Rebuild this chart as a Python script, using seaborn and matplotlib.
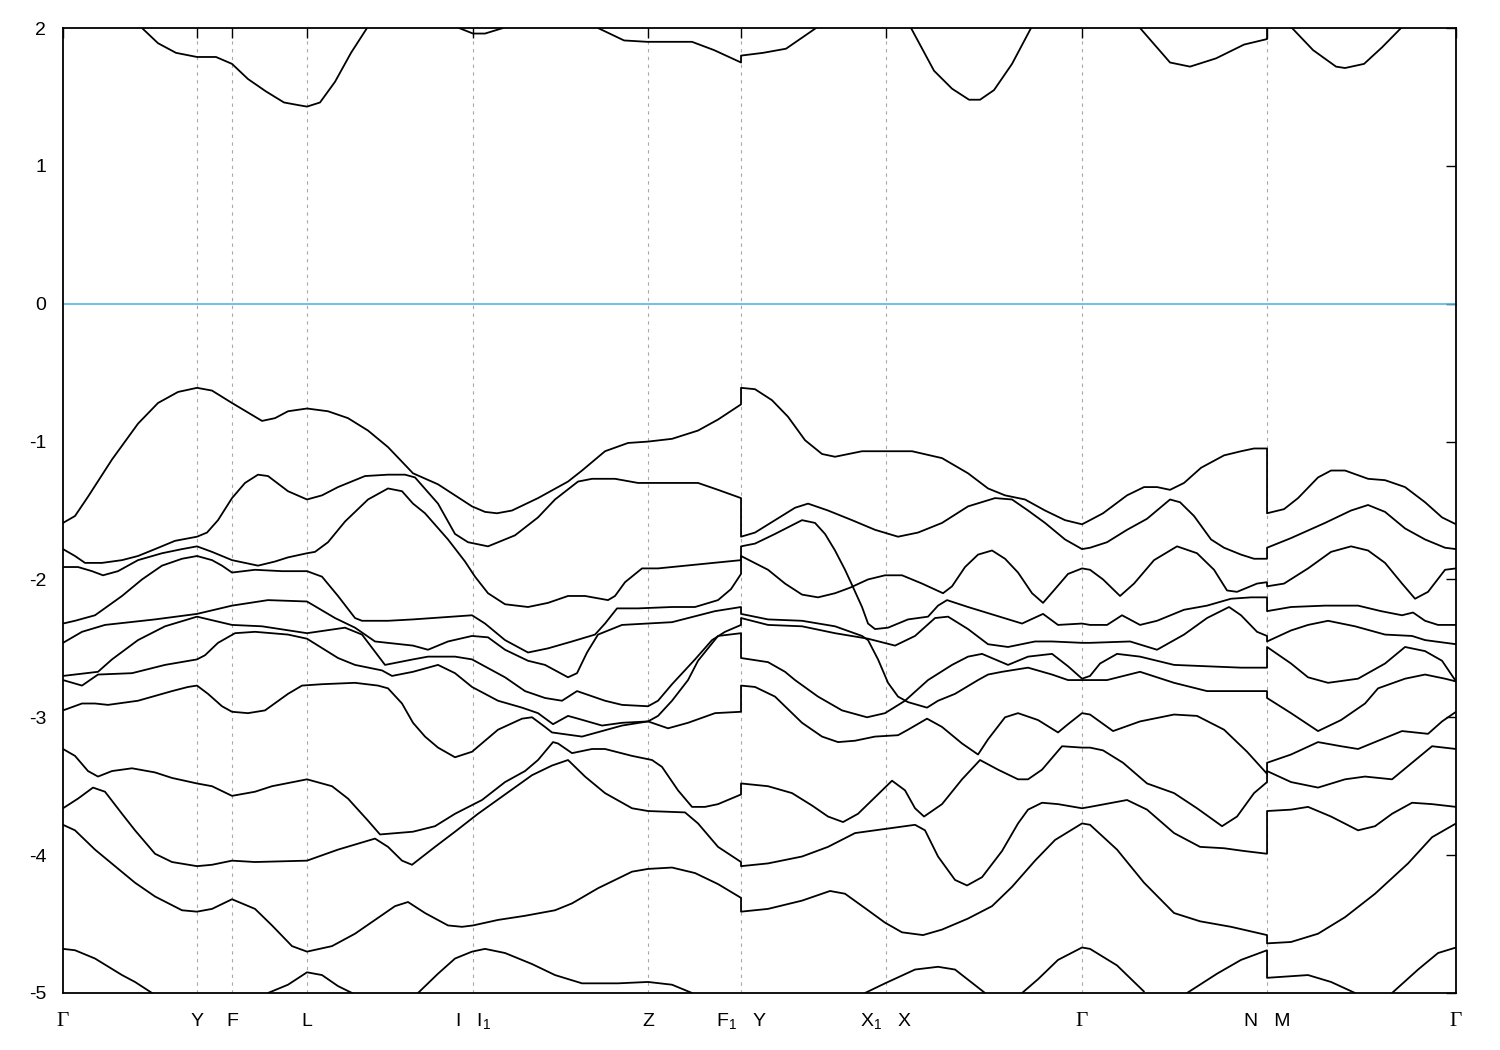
import matplotlib
matplotlib.use("Agg")
import matplotlib.pyplot as plt
import pandas as pd
import seaborn as sns

# ---------------- high-symmetry path ----------------
sym_k = [0.0, 1.34, 1.69, 2.44, 4.10, 5.85, 6.78, 8.23, 10.19, 12.04, 13.93]
sym_labels = ["Γ", "Y", "F", "L", "I   I$_1$", "Z", "F$_1$   Y", "X$_1$   X", "Γ", "N   M", "Γ"]
y_ticks = [-5, -4, -3, -2, -1, 0, 1, 2]

# ---------------- segment Γ-Y-F-L-I|I1-Z-F1 ----------------
A1_k = [0, 0.12, 0.25, 0.49, 0.75, 0.95, 1.15, 1.34, 1.49, 1.69, 1.99, 2.12, 2.25, 2.44, 2.65, 2.85, 3.05, 3.25, 3.50, 3.75, 4.09, 4.22, 4.34, 4.49, 4.75, 5.05, 5.19, 5.42, 5.65, 5.85, 6.09, 6.35, 6.55, 6.78]
A1_e = [-1.59, -1.54, -1.40, -1.13, -0.87, -0.72, -0.64, -0.61, -0.63, -0.72, -0.85, -0.83, -0.78, -0.76, -0.78, -0.83, -0.92, -1.04, -1.23, -1.31, -1.47, -1.51, -1.52, -1.50, -1.41, -1.29, -1.21, -1.07, -1.01, -1.00, -0.98, -0.92, -0.84, -0.73]
A2_k = [0, 0.12, 0.22, 0.39, 0.59, 0.75, 0.92, 1.12, 1.34, 1.44, 1.55, 1.69, 1.82, 1.95, 2.05, 2.25, 2.44, 2.59, 2.75, 3.02, 3.25, 3.42, 3.52, 3.75, 3.92, 4.05, 4.25, 4.52, 4.75, 4.92, 5.15, 5.29, 5.52, 5.75, 6.35, 6.55, 6.78]
A2_e = [-1.78, -1.83, -1.88, -1.88, -1.86, -1.83, -1.78, -1.72, -1.69, -1.66, -1.57, -1.41, -1.30, -1.24, -1.25, -1.36, -1.42, -1.39, -1.33, -1.25, -1.24, -1.24, -1.26, -1.45, -1.67, -1.73, -1.76, -1.68, -1.55, -1.42, -1.29, -1.27, -1.27, -1.30, -1.30, -1.35, -1.41]
A3_k = [0, 0.15, 0.29, 0.40, 0.55, 0.75, 0.99, 1.19, 1.34, 1.49, 1.69, 1.95, 2.12, 2.25, 2.44, 2.52, 2.65, 2.82, 3.05, 3.25, 3.39, 3.50, 3.62, 3.85, 4.02, 4.12, 4.25, 4.42, 4.65, 4.85, 5.05, 5.22, 5.45, 5.52, 5.62, 5.79, 5.95, 6.78]
A3_e = [-1.91, -1.91, -1.94, -1.97, -1.94, -1.86, -1.81, -1.78, -1.76, -1.80, -1.86, -1.90, -1.87, -1.84, -1.81, -1.80, -1.73, -1.58, -1.42, -1.34, -1.36, -1.45, -1.52, -1.71, -1.87, -1.98, -2.10, -2.18, -2.20, -2.17, -2.12, -2.12, -2.15, -2.12, -2.02, -1.92, -1.92, -1.86]
A4_k = [0, 0.12, 0.32, 0.59, 0.79, 0.99, 1.19, 1.34, 1.49, 1.59, 1.69, 1.92, 2.19, 2.44, 2.59, 2.75, 2.92, 2.99, 3.25, 3.50, 4.09, 4.22, 4.42, 4.65, 4.85, 5.09, 5.32, 5.42, 5.54, 5.75, 6.09, 6.32, 6.55, 6.68, 6.78]
A4_e = [-2.32, -2.30, -2.26, -2.12, -2.00, -1.90, -1.85, -1.83, -1.86, -1.90, -1.95, -1.93, -1.94, -1.94, -1.98, -2.12, -2.28, -2.30, -2.30, -2.29, -2.26, -2.32, -2.44, -2.53, -2.50, -2.45, -2.40, -2.32, -2.21, -2.21, -2.20, -2.20, -2.15, -2.07, -1.96]
A5_k = [0, 0.19, 0.42, 0.92, 1.34, 1.69, 2.05, 2.44, 2.72, 2.92, 3.12, 3.50, 3.65, 3.85, 4.09, 4.25, 4.42, 4.65, 4.82, 5.05, 5.14, 5.24, 5.35, 5.59, 6.09, 6.52, 6.78]
A5_e = [-2.46, -2.38, -2.33, -2.29, -2.25, -2.19, -2.15, -2.16, -2.28, -2.35, -2.45, -2.48, -2.51, -2.45, -2.41, -2.42, -2.51, -2.59, -2.62, -2.71, -2.68, -2.53, -2.40, -2.33, -2.31, -2.23, -2.20]
A6_k = [0, 0.35, 0.49, 0.75, 1.02, 1.34, 1.69, 1.99, 2.44, 2.82, 2.99, 3.22, 3.50, 3.65, 3.92, 4.09, 4.42, 4.62, 4.82, 4.99, 5.14, 5.42, 5.59, 5.85, 5.95, 6.09, 6.32, 6.49, 6.62, 6.78]
A6_e = [-2.70, -2.67, -2.58, -2.44, -2.34, -2.27, -2.33, -2.34, -2.39, -2.35, -2.40, -2.62, -2.58, -2.56, -2.56, -2.58, -2.71, -2.81, -2.86, -2.88, -2.81, -2.88, -2.91, -2.92, -2.88, -2.76, -2.58, -2.44, -2.38, -2.33]
A7_k = [0, 0.19, 0.35, 0.69, 1.02, 1.34, 1.42, 1.55, 1.72, 1.92, 2.25, 2.44, 2.75, 2.92, 3.19, 3.29, 3.50, 3.75, 3.92, 4.09, 4.35, 4.59, 4.75, 4.90, 5.05, 5.15, 5.39, 5.59, 5.85, 6.05, 6.25, 6.52, 6.78]
A7_e = [-2.73, -2.77, -2.69, -2.68, -2.62, -2.58, -2.55, -2.46, -2.39, -2.38, -2.40, -2.43, -2.57, -2.62, -2.66, -2.70, -2.67, -2.62, -2.68, -2.78, -2.88, -2.93, -2.97, -3.05, -2.99, -3.01, -3.06, -3.04, -3.03, -3.08, -3.04, -2.97, -2.96]
A8_k = [0, 0.19, 0.32, 0.45, 0.75, 1.09, 1.25, 1.34, 1.45, 1.59, 1.69, 1.85, 2.02, 2.25, 2.39, 2.59, 2.92, 3.15, 3.25, 3.39, 3.50, 3.62, 3.75, 3.92, 4.09, 4.35, 4.59, 4.69, 4.82, 4.89, 4.99, 5.19, 5.39, 5.59, 5.85, 5.95, 6.09, 6.25, 6.35, 6.55, 6.78]
A8_e = [-2.95, -2.90, -2.90, -2.91, -2.88, -2.81, -2.78, -2.77, -2.83, -2.92, -2.96, -2.97, -2.95, -2.83, -2.77, -2.76, -2.75, -2.77, -2.79, -2.90, -3.04, -3.14, -3.22, -3.29, -3.25, -3.09, -3.01, -3.00, -3.07, -3.11, -3.12, -3.14, -3.10, -3.06, -3.03, -2.99, -2.88, -2.73, -2.59, -2.41, -2.39]
A9_k = [0, 0.12, 0.25, 0.35, 0.49, 0.69, 0.92, 1.09, 1.34, 1.49, 1.69, 1.92, 2.09, 2.44, 2.69, 2.85, 3.05, 3.17, 3.50, 3.72, 3.92, 4.19, 4.42, 4.62, 4.75, 4.90, 4.95, 5.09, 5.29, 5.42, 5.69, 5.89, 5.99, 6.15, 6.29, 6.42, 6.55, 6.78]
A9_e = [-3.23, -3.28, -3.39, -3.43, -3.39, -3.37, -3.40, -3.44, -3.48, -3.50, -3.57, -3.54, -3.50, -3.45, -3.50, -3.59, -3.75, -3.85, -3.83, -3.79, -3.70, -3.60, -3.47, -3.39, -3.31, -3.18, -3.19, -3.26, -3.23, -3.23, -3.28, -3.31, -3.36, -3.53, -3.65, -3.65, -3.63, -3.56]
A10_k = [0, 0.15, 0.30, 0.42, 0.59, 0.72, 0.92, 1.09, 1.34, 1.49, 1.69, 1.92, 2.44, 2.75, 3.12, 3.25, 3.39, 3.49, 3.72, 3.92, 4.15, 4.42, 4.69, 4.89, 5.05, 5.22, 5.42, 5.69, 5.85, 6.22, 6.35, 6.55, 6.78]
A10_e = [-3.66, -3.59, -3.51, -3.54, -3.70, -3.82, -3.99, -4.05, -4.08, -4.07, -4.04, -4.05, -4.04, -3.96, -3.88, -3.94, -4.04, -4.07, -3.94, -3.83, -3.70, -3.56, -3.42, -3.35, -3.31, -3.43, -3.55, -3.66, -3.68, -3.69, -3.77, -3.94, -4.05]
A11_k = [0, 0.12, 0.32, 0.52, 0.72, 0.92, 1.19, 1.34, 1.49, 1.69, 1.92, 2.09, 2.29, 2.44, 2.69, 2.92, 3.12, 3.32, 3.45, 3.62, 3.85, 3.99, 4.10, 4.35, 4.62, 4.92, 5.09, 5.35, 5.69, 5.85, 6.09, 6.32, 6.55, 6.78]
A11_e = [-3.78, -3.82, -3.96, -4.08, -4.20, -4.30, -4.40, -4.41, -4.39, -4.32, -4.39, -4.51, -4.66, -4.70, -4.66, -4.57, -4.47, -4.37, -4.34, -4.42, -4.51, -4.52, -4.51, -4.47, -4.44, -4.40, -4.35, -4.24, -4.12, -4.10, -4.09, -4.13, -4.21, -4.31]
A12_k = [0, 0.12, 0.32, 0.59, 0.72, 0.89]
A12_e = [-4.68, -4.69, -4.75, -4.87, -4.92, -5.00]
A13_k = [2.05, 2.25, 2.44, 2.59, 2.75, 2.89]
A13_e = [-5.00, -4.94, -4.85, -4.87, -4.95, -5.00]
A14_k = [3.55, 3.75, 3.92, 4.09, 4.22, 4.42, 4.69, 4.92, 5.19, 5.55, 5.85, 6.09, 6.29]
A14_e = [-5.00, -4.86, -4.75, -4.70, -4.68, -4.71, -4.79, -4.87, -4.93, -4.93, -4.92, -4.94, -5.00]

# ---------------- segment Y-X1|X-Γ-N ----------------
B1_k = [6.78, 6.92, 7.09, 7.25, 7.42, 7.59, 7.72, 7.99, 8.24, 8.49, 8.79, 9.05, 9.25, 9.42, 9.62, 9.82, 10.02, 10.19, 10.27, 10.40, 10.64, 10.81, 10.94, 11.07, 11.21, 11.38, 11.61, 11.78, 11.91, 12.04]
B1_e = [-0.61, -0.62, -0.70, -0.82, -0.99, -1.09, -1.11, -1.07, -1.07, -1.07, -1.12, -1.23, -1.34, -1.39, -1.42, -1.50, -1.57, -1.60, -1.57, -1.52, -1.39, -1.33, -1.33, -1.35, -1.30, -1.19, -1.10, -1.07, -1.05, -1.05]
B2_k = [6.78, 6.92, 7.12, 7.32, 7.45, 7.65, 7.89, 8.12, 8.35, 8.55, 8.79, 9.05, 9.32, 9.49, 9.65, 9.82, 10.02, 10.19, 10.27, 10.44, 10.64, 10.84, 11.07, 11.17, 11.31, 11.48, 11.61, 11.78, 11.91, 12.04]
B2_e = [-1.69, -1.66, -1.57, -1.48, -1.45, -1.50, -1.57, -1.64, -1.69, -1.66, -1.59, -1.47, -1.41, -1.42, -1.50, -1.59, -1.71, -1.78, -1.77, -1.73, -1.64, -1.56, -1.42, -1.44, -1.54, -1.71, -1.77, -1.82, -1.85, -1.85]
B3_k = [6.78, 6.92, 7.12, 7.39, 7.52, 7.62, 7.72, 7.82, 7.89, 7.99, 8.05, 8.12, 8.25, 8.45, 8.65, 8.75, 8.84, 9.05, 9.32, 9.59, 9.80, 9.95, 10.19, 10.27, 10.44, 10.59, 10.77, 10.94, 11.21, 11.44, 11.68, 11.88, 12.04]
B3_e = [-1.76, -1.74, -1.67, -1.57, -1.59, -1.67, -1.79, -1.93, -2.04, -2.20, -2.32, -2.36, -2.35, -2.29, -2.27, -2.19, -2.15, -2.20, -2.26, -2.32, -2.25, -2.33, -2.32, -2.33, -2.33, -2.26, -2.33, -2.30, -2.22, -2.19, -2.14, -2.13, -2.13]
B4_k = [6.78, 7.05, 7.22, 7.39, 7.55, 7.72, 7.87, 8.05, 8.22, 8.39, 8.59, 8.80, 8.89, 9.02, 9.15, 9.29, 9.42, 9.55, 9.69, 9.80, 9.92, 10.05, 10.19, 10.27, 10.40, 10.57, 10.71, 10.91, 11.14, 11.34, 11.51, 11.64, 11.74, 11.94, 12.04]
B4_e = [-1.83, -1.93, -2.03, -2.11, -2.13, -2.10, -2.06, -2.00, -1.97, -1.97, -2.03, -2.10, -2.05, -1.91, -1.82, -1.79, -1.85, -1.95, -2.10, -2.17, -2.07, -1.96, -1.92, -1.93, -2.00, -2.12, -2.03, -1.86, -1.76, -1.81, -1.93, -2.08, -2.09, -2.03, -2.02]
B5_k = [6.78, 7.05, 7.39, 7.72, 7.99, 8.05, 8.15, 8.25, 8.35, 8.45, 8.64, 8.75, 8.92, 9.15, 9.25, 9.39, 9.65, 9.89, 10.05, 10.19, 10.27, 10.44, 10.77, 11.11, 11.44, 11.78, 12.04]
B5_e = [-2.25, -2.29, -2.30, -2.34, -2.41, -2.44, -2.58, -2.75, -2.85, -2.89, -2.93, -2.88, -2.83, -2.73, -2.69, -2.67, -2.64, -2.69, -2.73, -2.73, -2.73, -2.73, -2.67, -2.75, -2.81, -2.81, -2.81]
B6_k = [6.78, 7.05, 7.39, 7.72, 8.05, 8.32, 8.52, 8.72, 8.85, 9.05, 9.25, 9.45, 9.72, 9.89, 10.19, 10.27, 10.67, 10.94, 11.21, 11.44, 11.66, 11.78, 11.94, 12.04]
B6_e = [-2.28, -2.33, -2.34, -2.39, -2.43, -2.48, -2.41, -2.28, -2.27, -2.36, -2.47, -2.49, -2.45, -2.45, -2.46, -2.46, -2.45, -2.51, -2.40, -2.28, -2.20, -2.26, -2.38, -2.41]
B7_k = [6.78, 7.05, 7.22, 7.32, 7.55, 7.79, 8.04, 8.22, 8.42, 8.65, 8.89, 9.05, 9.19, 9.32, 9.45, 9.65, 9.89, 10.05, 10.19, 10.27, 10.37, 10.54, 10.77, 11.11, 11.44, 11.78, 12.04]
B7_e = [-2.57, -2.60, -2.67, -2.73, -2.85, -2.95, -3.00, -2.97, -2.88, -2.73, -2.62, -2.56, -2.54, -2.58, -2.62, -2.56, -2.54, -2.63, -2.72, -2.70, -2.61, -2.54, -2.56, -2.62, -2.63, -2.64, -2.64]
B8_k = [6.78, 6.92, 7.12, 7.39, 7.59, 7.75, 7.92, 8.12, 8.35, 8.45, 8.64, 8.79, 8.99, 9.15, 9.25, 9.42, 9.55, 9.75, 9.95, 10.05, 10.19, 10.27, 10.50, 10.77, 11.11, 11.34, 11.61, 11.84, 12.04]
B8_e = [-2.77, -2.78, -2.85, -3.04, -3.14, -3.18, -3.17, -3.14, -3.13, -3.09, -3.01, -3.07, -3.19, -3.27, -3.16, -3.00, -2.97, -3.02, -3.11, -3.05, -2.97, -2.98, -3.10, -3.03, -2.98, -2.99, -3.09, -3.25, -3.41]
B9_k = [6.78, 7.05, 7.29, 7.49, 7.65, 7.80, 7.95, 8.12, 8.29, 8.42, 8.52, 8.61, 8.79, 8.99, 9.17, 9.35, 9.55, 9.65, 9.79, 9.99, 10.19, 10.27, 10.40, 10.60, 10.84, 11.11, 11.34, 11.59, 11.74, 11.91, 12.04]
B9_e = [-3.48, -3.50, -3.55, -3.64, -3.72, -3.76, -3.70, -3.58, -3.46, -3.53, -3.66, -3.72, -3.63, -3.45, -3.31, -3.38, -3.45, -3.45, -3.38, -3.21, -3.22, -3.22, -3.24, -3.33, -3.48, -3.55, -3.66, -3.79, -3.72, -3.55, -3.47]
B10_k = [6.78, 7.05, 7.39, 7.65, 7.92, 8.22, 8.52, 8.62, 8.75, 8.92, 9.04, 9.19, 9.39, 9.55, 9.65, 9.79, 9.95, 10.19, 10.27, 10.64, 10.84, 11.11, 11.37, 11.61, 11.81, 12.04]
B10_e = [-4.08, -4.06, -4.01, -3.94, -3.84, -3.81, -3.78, -3.82, -4.01, -4.18, -4.22, -4.16, -3.97, -3.77, -3.67, -3.62, -3.63, -3.66, -3.65, -3.60, -3.67, -3.84, -3.94, -3.95, -3.97, -3.99]
B11_k = [6.78, 7.05, 7.39, 7.67, 7.82, 8.05, 8.22, 8.39, 8.60, 8.79, 9.05, 9.29, 9.49, 9.72, 9.92, 10.19, 10.27, 10.54, 10.81, 11.11, 11.37, 11.68, 12.04]
B11_e = [-4.41, -4.39, -4.33, -4.26, -4.28, -4.40, -4.49, -4.56, -4.58, -4.54, -4.46, -4.37, -4.23, -4.04, -3.89, -3.77, -3.78, -3.96, -4.20, -4.42, -4.48, -4.52, -4.58]
B12_k = [9.59, 9.75, 9.95, 10.19, 10.27, 10.54, 10.81]
B12_e = [-5.00, -4.90, -4.76, -4.67, -4.68, -4.80, -4.99]
B13_k = [8.02, 8.22, 8.52, 8.75, 8.92, 9.22]
B13_e = [-5.00, -4.93, -4.83, -4.81, -4.83, -5.00]
B14_k = [11.24, 11.54, 11.78, 12.04]
B14_e = [-5.00, -4.86, -4.76, -4.69]

# ---------------- segment M-Γ ----------------
C1_k = [12.04, 12.21, 12.35, 12.55, 12.68, 12.82, 13.05, 13.22, 13.42, 13.62, 13.79, 13.93]
C1_e = [-1.52, -1.49, -1.41, -1.26, -1.21, -1.21, -1.27, -1.28, -1.33, -1.44, -1.55, -1.60]
C2_k = [12.04, 12.28, 12.62, 12.88, 13.05, 13.22, 13.42, 13.62, 13.82, 13.93]
C2_e = [-1.77, -1.70, -1.59, -1.50, -1.46, -1.51, -1.63, -1.71, -1.77, -1.78]
C3_k = [12.04, 12.21, 12.45, 12.68, 12.88, 13.05, 13.22, 13.39, 13.52, 13.65, 13.82, 13.93]
C3_e = [-2.05, -2.03, -1.92, -1.80, -1.76, -1.79, -1.88, -2.03, -2.14, -2.09, -1.93, -1.92]
C4_k = [12.04, 12.28, 12.62, 12.95, 13.18, 13.39, 13.50, 13.62, 13.75, 13.93]
C4_e = [-2.23, -2.20, -2.19, -2.19, -2.23, -2.26, -2.24, -2.30, -2.33, -2.33]
C5_k = [12.04, 12.28, 12.45, 12.65, 12.92, 13.22, 13.49, 13.62, 13.93]
C5_e = [-2.45, -2.37, -2.33, -2.30, -2.34, -2.40, -2.41, -2.44, -2.47]
C6_k = [12.04, 12.28, 12.45, 12.65, 12.95, 13.22, 13.42, 13.62, 13.79, 13.93]
C6_e = [-2.49, -2.61, -2.71, -2.75, -2.72, -2.61, -2.49, -2.52, -2.59, -2.74]
C7_k = [12.04, 12.28, 12.55, 12.78, 13.02, 13.15, 13.42, 13.62, 13.82, 13.93]
C7_e = [-2.86, -2.97, -3.10, -3.02, -2.90, -2.79, -2.72, -2.69, -2.72, -2.74]
C8_k = [12.04, 12.28, 12.55, 12.78, 12.95, 13.22, 13.39, 13.65, 13.79, 13.93]
C8_e = [-3.33, -3.27, -3.18, -3.21, -3.23, -3.15, -3.10, -3.12, -3.03, -2.96]
C9_k = [12.04, 12.28, 12.55, 12.82, 13.02, 13.29, 13.49, 13.69, 13.93]
C9_e = [-3.39, -3.47, -3.51, -3.45, -3.43, -3.45, -3.33, -3.21, -3.23]
C10_k = [12.04, 12.28, 12.45, 12.68, 12.95, 13.12, 13.29, 13.49, 13.69, 13.93]
C10_e = [-3.68, -3.67, -3.65, -3.72, -3.82, -3.79, -3.70, -3.62, -3.63, -3.65]
C11_k = [12.04, 12.28, 12.55, 12.82, 13.12, 13.45, 13.69, 13.93]
C11_e = [-4.64, -4.63, -4.57, -4.45, -4.28, -4.06, -3.87, -3.77]
C12_k = [12.04, 12.45, 12.68, 12.92]
C12_e = [-4.89, -4.87, -4.92, -5.00]
C13_k = [13.29, 13.55, 13.75, 13.93]
C13_e = [-5.00, -4.83, -4.71, -4.67]

# ---------------- conduction bands ----------------
CB1_k = [0.79, 0.95, 1.13, 1.34, 1.53, 1.69, 1.85, 2.03, 2.21, 2.36, 2.44, 2.57, 2.72, 2.88, 3.04]
CB1_e = [2.00, 1.89, 1.82, 1.79, 1.79, 1.74, 1.63, 1.54, 1.46, 1.44, 1.43, 1.46, 1.61, 1.82, 2.00]
CB2_k = [3.96, 4.10, 4.22, 4.40]
CB2_e = [2.00, 1.96, 1.96, 2.00]
CB3a_k = [5.35, 5.61, 5.84, 6.29, 6.51, 6.78]
CB3a_e = [2.00, 1.91, 1.90, 1.90, 1.84, 1.75]
CB3b_k = [6.78, 7.00, 7.23, 7.53]
CB3b_e = [1.80, 1.82, 1.85, 2.00]
CB4_k = [8.48, 8.71, 8.89, 9.06, 9.17, 9.31, 9.49, 9.68]
CB4_e = [2.00, 1.69, 1.56, 1.48, 1.48, 1.55, 1.74, 2.00]
CB5_k = [10.77, 11.07, 11.27, 11.53, 11.81, 12.04]
CB5_e = [2.00, 1.75, 1.72, 1.78, 1.88, 1.92]
CB6_k = [12.04, 12.29, 12.50, 12.73, 12.82, 13.01, 13.19, 13.38]
CB6_e = [2.30, 2.00, 1.84, 1.72, 1.71, 1.74, 1.86, 2.00]

# bands are joined across the path discontinuities (F1|Y and N|M) as in the source
chains = [
    [(A1_k, A1_e), (B1_k, B1_e), (C1_k, C1_e)],
    [(A2_k, A2_e), (B2_k, B2_e), (C2_k, C2_e)],
    [(A3_k, A3_e), (B3_k, B3_e), (C4_k, C4_e)],
    [(A4_k, A4_e), (B4_k, B4_e), (C3_k, C3_e)],
    [(A5_k, A5_e), (B5_k, B5_e), (C7_k, C7_e)],
    [(A6_k, A6_e), (B6_k, B6_e), (C5_k, C5_e)],
    [(A8_k, A8_e), (B7_k, B7_e), (C6_k, C6_e)],
    [(A7_k, A7_e), (B8_k, B8_e), (C8_k, C8_e)],
    [(A9_k, A9_e), (B9_k, B9_e), (C9_k, C9_e)],
    [(A10_k, A10_e), (B10_k, B10_e), (C10_k, C10_e)],
    [(A11_k, A11_e), (B11_k, B11_e), (C11_k, C11_e)],
    [(A12_k, A12_e)],
    [(A13_k, A13_e)],
    [(A14_k, A14_e)],
    [(B12_k, B12_e)],
    [(B13_k, B13_e)],
    [(B14_k, B14_e), (C12_k, C12_e)],
    [(C13_k, C13_e)],
    [(CB1_k, CB1_e)],
    [(CB2_k, CB2_e)],
    [(CB3a_k, CB3a_e), (CB3b_k, CB3b_e)],
    [(CB4_k, CB4_e)],
    [(CB5_k, CB5_e), (CB6_k, CB6_e)],
]

rows = []
for band_id, chain in enumerate(chains):
    for ks, es in chain:
        for k, e in zip(ks, es):
            rows.append((band_id, k, e))
df = pd.DataFrame(rows, columns=["band", "k", "E"])

# ---------------- style ----------------
sns.set_theme(style="white")
plt.rcParams["font.family"] = ["Liberation Sans", "DejaVu Sans"]
plt.rcParams["mathtext.fontset"] = "custom"
plt.rcParams["mathtext.rm"] = "Liberation Sans"
plt.rcParams["mathtext.it"] = "Liberation Sans:italic"
plt.rcParams["axes.unicode_minus"] = False

fig = plt.figure(figsize=(15, 10.5), dpi=100)
ax = fig.add_axes([0.042, 0.0543, 0.9287, 0.919])

for kk in sym_k[1:-1]:
    ax.axvline(kk, color="#a8a8a8", lw=0.8, ls=(0, (3, 4)), zorder=0)
ax.axhline(0, color="#56b4e9", lw=1.2, zorder=1)

sns.lineplot(data=df, x="k", y="E", units="band", estimator=None, sort=False,
             color="black", lw=1.3, ax=ax, legend=False)

ax.set_xlim(sym_k[0], sym_k[-1])
ax.set_ylim(-5, 2)
ax.set_xticks(sym_k)
ax.set_xticklabels(sym_labels)
ax.set_yticks(y_ticks)
ax.set_yticklabels([str(v) for v in y_ticks])
ax.set_xlabel("")
ax.set_ylabel("")

ax.tick_params(axis="both", direction="in", length=7.5, width=1.0, color="black",
               top=True, right=True, labelsize=14, labelcolor="black")
ax.tick_params(axis="x", pad=23.5)
ax.tick_params(axis="y", pad=12)
for lbl in ax.get_xticklabels():
    lbl.set_verticalalignment("baseline")
    if lbl.get_text() == "Γ":
        lbl.set_fontfamily("Liberation Serif")
        lbl.set_fontsize(15.5)
for s in ax.spines.values():
    s.set_color("black")
    s.set_linewidth(1.3)
ax.grid(False)

fig.savefig("out.png", dpi=100, facecolor="white")
